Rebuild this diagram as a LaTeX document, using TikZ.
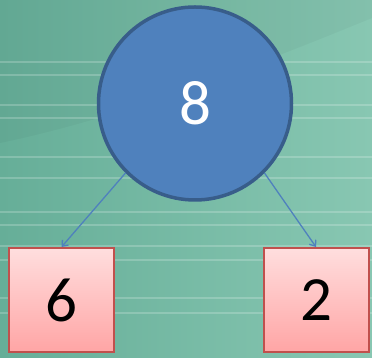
\documentclass[tikz,border=0pt]{standalone}
\usepackage{fontspec}
\setmainfont{Carlito}
\usetikzlibrary{arrows.meta}
\definecolor{seaL}{HTML}{66AE98}
\definecolor{seaR}{HTML}{88C7B2}
\definecolor{rootfill}{HTML}{4F81BD}
\definecolor{rootline}{HTML}{385D8A}
\definecolor{leafline}{HTML}{C0504D}
\definecolor{leaftop}{HTML}{FFDEDE}
\definecolor{leafbot}{HTML}{FFA5A5}
\tikzset{
  root/.style={circle,fill=rootfill,draw=rootline,line width=3.5pt,inner sep=0pt,
    minimum size=193pt,text=white,font=\fontsize{63}{63}\selectfont},
  leaf/.style={rectangle,top color=leaftop,bottom color=leafbot,draw=leafline,line width=2pt,
    inner sep=0pt,minimum width=105pt,minimum height=104pt,font=\fontsize{63}{63}\selectfont},
  edge/.style={draw=rootfill,line width=1.3pt,-{Straight Barb[length=5pt,width=8pt]}}
}
\begin{document}
\begin{tikzpicture}[x=1pt,y=1pt]
\shade[left color=seaL,right color=seaR] (0,0) rectangle (372,358);
\useasboundingbox (0,0) rectangle (372,358);
% streaks
\fill[black,opacity=.03] (0,215) .. controls (120,240) and (250,290) .. (372,340) -- (372,358) -- (0,358) -- cycle;
\foreach \y in {296,283,253,240,201,180,146,133,112,98,60,45}
  \draw[white,opacity=.2,line width=1.8pt] (0,\y) -- (372,\y);
\node[root] (n8) at (195,254.5) {8};
\node[leaf] (n6) at (61.5,58) {6};
\node[leaf] (n2) at (316,58) {2};
\draw[edge] (n8.225) -- (n6.north);
\draw[edge] (n8.-45) -- (n2.north);
\end{tikzpicture}
\end{document}
